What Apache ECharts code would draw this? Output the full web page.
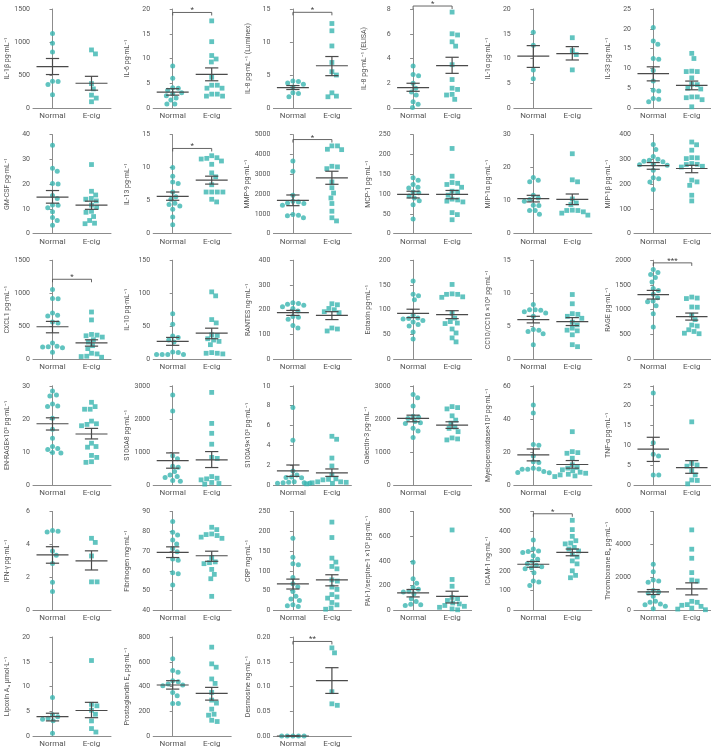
<!DOCTYPE html>
<html><head><meta charset="utf-8">
<script src="https://cdn.jsdelivr.net/npm/echarts@6/dist/echarts.min.js"></script>
<style>html,body{margin:0;padding:0;background:#fff}#c{width:711px;height:748px}</style>
</head><body><div id="c"></div>
<script>
const categories = ['Normal', 'E-cig'];
const panelTitles = ['IL-1β pg·mL⁻¹','IL-6 pg·mL⁻¹','IL-8 pg·mL⁻¹ (Luminex)','IL-8 pg·mL⁻¹ (ELISA)','IL-1α pg·mL⁻¹','IL-33 pg·mL⁻¹',
 'GM-CSF pg·mL⁻¹','IL-13 pg·mL⁻¹','MMP-9 pg·mL⁻¹','MCP-1 pg·mL⁻¹','MIP-1α pg·mL⁻¹','MIP-1β pg·mL⁻¹',
 'CXCL1 pg·mL⁻¹','IL-10 pg·mL⁻¹','RANTES ng·mL⁻¹','Eotaxin pg·mL⁻¹','CC10/CC16 ×10³ pg·mL⁻¹','RAGE pg·mL⁻¹',
 'EN-RAGE×10³ pg·mL⁻¹','S100A8 pg·mL⁻¹','S100A9×10³ pg·mL⁻¹','Galectin-3 pg·mL⁻¹','Myeloperoxidase×10³ pg·mL⁻¹','TNF-α pg·mL⁻¹',
 'IFN-γ pg·mL⁻¹','Fibrinogen mg·mL⁻¹','CRP mg·mL⁻¹','PAI-1/serpine-1 ×10³ pg·mL⁻¹','ICAM-1 ng·mL⁻¹','Thromboxane B₂ pg·mL⁻¹',
 'Lipoxin A₄ µmol·L⁻¹','Prostaglandin E₂ pg·mL⁻¹','Desmosine ng·mL⁻¹'];
const yMin = [0,0,0,0,0,0, 0,0,0,0,0,0, 0,0,0,0,0,0, 0,0,0,0,0,0, 0,40,0,0,0,0, 0,0,0];
const yMax = [1500,20,15,8,20,25, 40,15,5000,250,30,400, 1500,150,400,200,15,2000, 30,3000,10,3000,60,25, 6,90,250,800,500,6000, 20,800,0.2];
const yStep = [500,5,5,2,5,5, 10,5,1000,50,10,100, 500,50,100,50,5,500, 10,1000,2,1000,20,5, 2,10,50,200,100,2000, 5,200,0.05];

const normalValues = [
 [1130,980,850,405,400,355,200],
 [8.5,6.0,4.1,4.0,3.6,3.1,2.9,2.5,2.0,1.6,0.8,0.8],
 [4.1,4.0,3.8,3.6,3.2,2.3,2.2,1.7],
 [3.4,2.7,2.6,2.0,1.6,1.3,1.05,0.5,0.3,0.05],
 [15.3,12.7,7.7,5.9],
 [20.3,16.9,16.1,12.5,12.3,9.5,6.8,4.5,4.3,2.4,2.2,1.6],
 [35.7,26.4,25.2,20.2,20.0,15.4,14.2,11.6,11.5,10.4,8.8,6.5,5.3,3.4],
 [10.0,8.7,7.8,7.6,6.3,5.6,5.2,4.6,4.4,4.2,3.7,2.5,1.35],
 [3670,3150,1940,1630,1600,1550,1520,1430,960,930,900,800],
 [141,135,124,117,115,105,103,95,90,83,73,37],
 [17.0,16.2,15.7,11.6,10.8,10.3,9.8,8.6,8.5,7.0,7.0,5.9],
 [360,340,312,300,296,292,290,280,278,276,256,226,222,208,178],
 [1055,920,915,700,665,655,565,550,245,195,190,185,175,105],
 [69,53,35,33,29,26,11,10,7,7,7,7],
 [228,225,222,218,212,205,195,173,170,161,136,126],
 [158,131,128,120,89,83,82,81,78,75,70,67,55,41],
 [8.3,7.5,7.5,7.4,7.2,7.0,6.5,4.5,4.4,4.2,3.85,2.2],
 [1810,1750,1710,1650,1560,1430,1390,1310,1240,1175,1160,1080,920,650],
 [28.4,27.2,26.9,24.5,23.9,23.7,20.2,16.8,14.1,11.6,11.0,10.7,9.8,9.6],
 [2720,2240,880,790,560,530,400,300,250,220,130,110],
 [7.8,4.5,1.4,1.0,0.8,0.75,0.7,0.3,0.25,0.2,0.2,0.15,0.15],
 [2740,2640,2390,2080,2050,2010,1920,1880,1860,1710,1630,1430],
 [48.3,43.5,24.5,24.0,17.5,14.0,13.5,10.0,9.6,9.5,9.5,8.0,7.4,7.3],
 [23.2,10.6,7.7,7.3,2.5,2.5],
 [4.85,4.8,4.75,3.6,3.35,2.85,1.7,1.15],
 [84.9,79.5,78.1,75.5,73.5,71.3,69.6,65.9,65.3,59.0,58.5,52.8],
 [182,134,118,115,83,67,60,48,36,29,25,14,12,10],
 [390,255,220,185,170,155,148,135,95,72,50,46,40],
 [355,310,300,298,292,276,258,248,236,228,220,215,210,190,148,143,126],
 [2800,2350,1840,1780,1710,1200,1120,1060,860,550,490,390,350,245,100],
 [7.8,4.3,3.9,3.6,3.4,3.1,0.55],
 [624,529,515,447,439,420,412,407,352,325,263,263],
 [0,0,0,0,0]
];
const ecigValues = [
 [880,820,370,290,195,150,95],
 [17.6,13.4,10.6,9.9,9.3,6.2,4.6,4.6,4.0,4.0,2.8,2.8,2.4,2.4],
 [12.8,11.7,9.4,6.9,5.5,5.0,2.3,1.8,1.7],
 [7.75,6.0,5.9,5.35,5.0,3.5,2.3,1.6,1.5,1.1,1.05,0.7],
 [14.2,11.6,10.8,7.7],
 [13.8,12.5,9.3,9.2,9.2,7.6,6.0,5.9,5.0,4.8,2.8,2.8,2.6,2.1,0.3],
 [27.9,17.1,15.6,14.2,13.9,13.2,11.5,10.6,9.0,8.6,6.9,5.3,4.2,4.0],
 [11.8,11.5,11.4,11.3,11.0,10.5,9.2,8.6,7.4,6.3,6.3,6.3,6.3,5.2,4.8],
 [4430,4430,4260,4240,3400,3370,3280,2610,2320,2050,1800,1520,1130,800,640],
 [215,145,129,127,124,117,107,105,97,87,85,82,80,53,48,35],
 [24.2,16.3,15.7,10.5,9.3,8.8,7.1,7.0,7.0,6.6,6.2,5.6],
 [370,359,337,307,306,303,283,280,279,272,269,216,209,195,155,132],
 [715,595,375,365,355,335,295,260,205,160,90,80,45,40,30],
 [102,96,60,55,37,36,31,29,27,22,10,9,9,8],
 [224,220,205,200,192,188,126,122,114],
 [151,132,131,131,126,125,93,83,76,73,72,61,53,43,35],
 [9.8,8.4,6.9,6.8,6.5,6.2,5.6,5.2,4.7,4.4,4.3,3.7,2.2,1.9],
 [1255,1235,1225,1055,1050,890,800,690,670,595,560,525,515],
 [25.0,23.7,22.9,22.9,19.3,18.5,18.3,17.9,12.6,11.6,11.4,8.9,8.3,7.0,6.8],
 [2800,1860,1560,1230,830,800,250,200,180,150,70,40,20],
 [4.9,4.6,2.7,1.9,1.0,0.6,0.55,0.5,0.3,0.3,0.25,0.2,0.15,0.1,0.1],
 [2370,2340,2300,2090,1960,1870,1750,1710,1610,1420,1390,1360],
 [32.2,20.1,19.5,19.1,16.1,12.1,10.5,10.1,9.1,8.5,7.6,7.0,6.4,6.0,5.4,5.0],
 [15.9,5.4,5.0,4.7,3.6,2.5,1.2,1.1,0.25],
 [4.37,4.12,3.3,1.73,1.73],
 [82.0,80.8,78.6,78.3,77.8,77.0,76.4,66.7,64.5,64.1,63.6,60.7,58.2,56.0,47.1],
 [223,184,132,122,111,105,77,74,59,53,40,34,31,20,14,6,3],
 [650,250,195,105,95,80,60,52,40,33,25,12,5],
 [455,408,374,352,340,336,318,310,300,284,270,250,235,200,177,165],
 [4880,3710,3160,2290,1840,1780,550,490,350,310,245,140,80,40],
 [15.25,6.4,6.1,5.2,4.4,3.05,1.5,0.8],
 [718,583,556,461,425,352,290,266,217,176,168,127,117],
 [0.178,0.168,0.0895,0.065,0.062]
];
const normalMean = [628,3.2,3.1,1.65,10.5,8.7, 14.7,5.65,1680,99,10.6,275, 492,27,188,92.5,6.0,1305, 18.5,735,1.4,2010,18.1,9.0, 3.37,69.3,67,141,233,1120, 3.9,412,0];
const normalSemLow = [507,2.6,2.8,1.35,8.2,6.85, 12.3,5.05,1410,90,9.6,260, 400,21,177,84,5.5,1215, 16.6,503,0.85,1910,14.5,5.9, 2.86,66.7,54,109,218,960, 3.05,379,0];
const normalSemHigh = [750,3.9,3.4,2.0,12.6,10.4, 17.4,6.3,1950,107,11.6,287, 573,33,197,101,6.5,1390, 20.3,966,2.0,2110,21.7,12.0, 3.86,72.1,79,169,247,1265, 4.6,447,0];
const ecigMean = [375,6.8,6.4,3.43,11.0,5.7, 11.5,8.1,2810,99,10.4,263, 248,39.5,177,90,5.7,862, 15.4,755,1.2,1810,12.3,4.35, 3.0,67.6,77,114,293,1300, 5.15,344,0.112];
const ecigSemLow = [270,5.5,4.9,2.8,9.7,4.6, 9.8,7.5,2490,88,8.8,246, 198,31,160,82,5.1,790, 13.9,523,0.85,1710,10.1,2.9, 2.45,64.8,62,60,276,940, 3.7,290,0.086];
const ecigSemHigh = [480,8.1,7.8,4.1,12.4,6.8, 13.1,8.7,3150,109,12.0,276, 294,47,192,98,6.3,932, 17.1,1007,1.6,1910,14.7,6.1, 3.61,69.9,90,155,310,1670, 6.8,393,0.138];

const sigPanels = [1,2,3,7,8,12,17,28,32];
const sigHeights = [19.3,14.5,8.24,12.9,4750,1211,1946,488,0.191];
const sigLabels = ['*','*','*','*','*','*','***','*','**'];

// ---------- layout ----------
const COLS = 6, GL = 33, GDX = 120.2, GT = 9, GDY = 125.6, GW = 78, GH = 99;
const TEAL = '#3ab5b0', DARK = '#4a4a4a', AXIS = '#8c8c8c', TXT = '#555';
const FONT = 'Roboto, "Liberation Sans", sans-serif';

function swarm(vals, lo, hi, center) {
  const d = 5.6, unitPx = GW / 2;
  const order = vals.map((v, i) => i).sort((a, b) => vals[b] - vals[a]);
  const placed = [], out = new Array(vals.length);
  order.forEach(i => {
    const py = (vals[i] - lo) * GH / (hi - lo);
    const near = placed.filter(p => Math.abs(p.y - py) < d);
    const cands = [0];
    near.forEach(p => { const dx = Math.sqrt(d * d - (p.y - py) ** 2); cands.push(p.x + dx, p.x - dx); });
    cands.sort((a, b) => Math.abs(a) - Math.abs(b) || b - a);
    const x = cands.find(c => near.every(p => (p.x - c) ** 2 + (p.y - py) ** 2 >= d * d - 1e-6));
    placed.push({ x, y: py });
    out[i] = [center + x / unitPx, vals[i]];
  });
  return out;
}

const grid = [], xAxis = [], yAxis = [], series = [];
panelTitles.forEach((title, i) => {
  const r = Math.floor(i / COLS), c = i % COLS;
  grid.push({ left: GL + c * GDX, top: GT + r * GDY, width: GW, height: GH });
  xAxis.push({
    type: 'category', gridIndex: i, data: categories, boundaryGap: true,
    axisLine: { lineStyle: { color: AXIS, width: 1 } },
    axisTick: { alignWithLabel: true, length: 3, lineStyle: { color: AXIS } },
    axisLabel: { color: TXT, fontSize: 8, margin: 4, fontFamily: FONT },
    splitLine: { show: false }
  });
  xAxis.push({ type: 'value', gridIndex: i, min: -0.5, max: 1.5, show: false, splitLine: { show: false } });
  const dec = yStep[i] < 1 ? 2 : 0;
  yAxis.push({
    type: 'value', gridIndex: i, min: yMin[i], max: yMax[i], interval: yStep[i],
    name: title, nameLocation: 'middle', nameRotate: 90, nameGap: i === 3 ? 26 : 22,
    nameTextStyle: { color: TXT, fontSize: 7, fontFamily: FONT },
    axisLine: { show: true, lineStyle: { color: AXIS, width: 1 } },
    axisTick: { show: true, length: 3, lineStyle: { color: AXIS } },
    axisLabel: { color: TXT, fontSize: 7, margin: 3, fontFamily: FONT, formatter: v => dec ? v.toFixed(2) : String(v) },
    splitLine: { show: false }
  });
  series.push({
    type: 'scatter', xAxisIndex: 2 * i + 1, yAxisIndex: i, symbol: 'circle', symbolSize: 5,
    itemStyle: { color: TEAL }, data: swarm(normalValues[i], yMin[i], yMax[i], 0), z: 2, silent: true
  });
  series.push({
    type: 'scatter', xAxisIndex: 2 * i + 1, yAxisIndex: i, symbol: 'rect', symbolSize: 4.8,
    itemStyle: { color: TEAL }, data: swarm(ecigValues[i], yMin[i], yMax[i], 1), z: 2, silent: true
  });
  series.push({
    type: 'custom', xAxisIndex: 2 * i + 1, yAxisIndex: i, z: 3, silent: true,
    data: [[0, normalMean[i], normalSemLow[i], normalSemHigh[i]], [1, ecigMean[i], ecigSemLow[i], ecigSemHigh[i]]],
    renderItem: (params, api) => {
      const x = api.value(0), m = api.value(1), lo = api.value(2), hi = api.value(3);
      const ln = (a, b) => ({ type: 'line', shape: { x1: a[0], y1: a[1], x2: b[0], y2: b[1] }, style: { stroke: DARK, lineWidth: 1.2 } });
      return { type: 'group', children: [
        ln(api.coord([x - 0.41, m]), api.coord([x + 0.41, m])),
        ln(api.coord([x - 0.17, lo]), api.coord([x + 0.17, lo])),
        ln(api.coord([x - 0.17, hi]), api.coord([x + 0.17, hi])),
        ln(api.coord([x, lo]), api.coord([x, hi]))
      ] };
    }
  });
});

sigPanels.forEach((p, k) => {
  const label = sigLabels[k];
  series.push({
    type: 'custom', xAxisIndex: 2 * p + 1, yAxisIndex: p, z: 4, silent: true, clip: false,
    data: [[0, 1, sigHeights[k]]],
    renderItem: (params, api) => {
      const y = api.value(2);
      const a = api.coord([api.value(0), y]), b = api.coord([api.value(1), y]);
      return { type: 'group', children: [
        { type: 'polyline', shape: { points: [[a[0], a[1] + 3], [a[0], a[1]], [b[0], b[1]], [b[0], b[1] + 3]] },
          style: { stroke: '#555', lineWidth: 0.9, fill: null } },
        { type: 'text', x: (a[0] + b[0]) / 2, y: a[1] + 2,
          style: { text: label, align: 'center', verticalAlign: 'bottom', fontSize: 8, fontFamily: FONT, fill: '#444' } }
      ] };
    }
  });
});

const chart = echarts.init(document.getElementById('c'), null, { renderer: 'canvas' });
chart.setOption({ animation: false, backgroundColor: '#fff', grid, xAxis, yAxis, series });
</script></body></html>
